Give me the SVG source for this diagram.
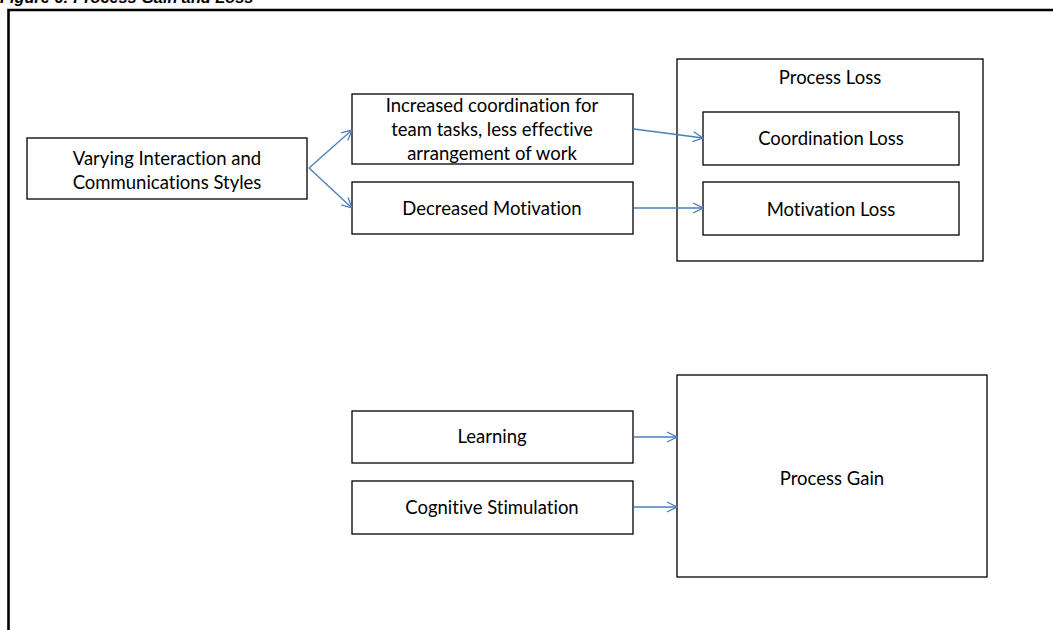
<svg xmlns="http://www.w3.org/2000/svg" width="1053" height="630" viewBox="0 0 1053 630">
  <style>
    .box { fill: #ffffff; stroke: #000000; stroke-width: 1.3; }
    .lbl { font-family: Lato, "Open Sans", sans-serif; font-size: 18.5px; fill: #000000; text-anchor: middle; font-variant-ligatures: none; }
    .conn { fill: none; stroke: #4a7ebb; stroke-width: 1.3; }
    .title { font-family: "Liberation Sans", Arial, sans-serif; font-weight: bold; font-style: italic; font-size: 16.3px; fill: #000000; }
  </style>
  <defs>
    <marker id="open-arrow" viewBox="0 0 12 12" refX="11" refY="6" markerWidth="12" markerHeight="12" markerUnits="userSpaceOnUse" orient="auto">
      <path d="M1,1 L11,6 L1,11" fill="none" stroke="#4a7ebb" stroke-width="1.3"/>
    </marker>
  </defs>

  <rect width="1053" height="630" fill="#ffffff"/>

  <!-- figure caption, running off the top edge -->
  <text class="title" x="0" y="3">Figure 6: Process Gain and Loss</text>

  <!-- outer frame -->
  <path d="M8.5,630 L8.5,10 L1053,10" fill="none" stroke="#000000" stroke-width="2.6"/>

  <g id="varying-styles">
    <rect class="box" x="27" y="138" width="280" height="61"/>
    <text class="lbl" x="167" y="165">Varying Interaction and</text>
    <text class="lbl" x="167" y="189">Communications Styles</text>
  </g>

  <g id="increased-coordination">
    <rect class="box" x="352" y="94" width="281" height="70"/>
    <text class="lbl" x="492" y="112">Increased coordination for</text>
    <text class="lbl" x="492" y="136">team tasks, less effective</text>
    <text class="lbl" x="492" y="160">arrangement of work</text>
  </g>

  <g id="decreased-motivation">
    <rect class="box" x="352" y="182" width="281" height="52"/>
    <text class="lbl" x="492" y="215">Decreased Motivation</text>
  </g>

  <g id="process-loss">
    <rect class="box" x="677" y="59" width="306" height="202"/>
    <text class="lbl" x="830" y="84">Process Loss</text>
  </g>

  <g id="coordination-loss">
    <rect class="box" x="703" y="112" width="256" height="53"/>
    <text class="lbl" x="831" y="145">Coordination Loss</text>
  </g>

  <g id="motivation-loss">
    <rect class="box" x="703" y="182" width="256" height="53"/>
    <text class="lbl" x="831" y="216">Motivation Loss</text>
  </g>

  <g id="learning">
    <rect class="box" x="352" y="411" width="281" height="52"/>
    <text class="lbl" x="492" y="443">Learning</text>
  </g>

  <g id="cognitive-stimulation">
    <rect class="box" x="352" y="481" width="281" height="53"/>
    <text class="lbl" x="492" y="514">Cognitive Stimulation</text>
  </g>

  <g id="process-gain">
    <rect class="box" x="677" y="375" width="310" height="202"/>
    <text class="lbl" x="832" y="485">Process Gain</text>
  </g>

  <g id="connectors">
    <line class="conn" x1="309" y1="168" x2="352" y2="130" marker-end="url(#open-arrow)"/>
    <line class="conn" x1="309" y1="168" x2="352" y2="208" marker-end="url(#open-arrow)"/>
    <line class="conn" x1="634" y1="129" x2="703" y2="138" marker-end="url(#open-arrow)"/>
    <line class="conn" x1="634" y1="208" x2="703" y2="208" marker-end="url(#open-arrow)"/>
    <line class="conn" x1="634" y1="437" x2="677" y2="437" marker-end="url(#open-arrow)"/>
    <line class="conn" x1="634" y1="507" x2="677" y2="507" marker-end="url(#open-arrow)"/>
  </g>
</svg>
